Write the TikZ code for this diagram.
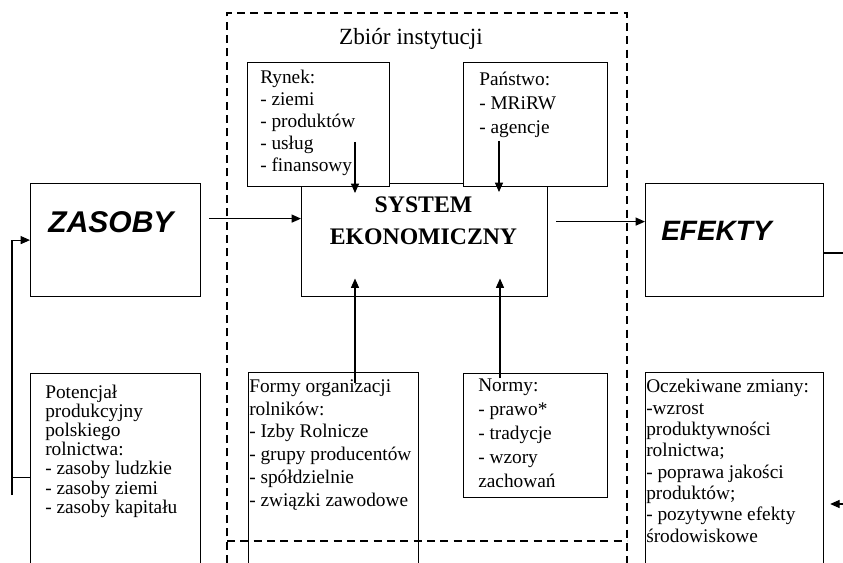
\documentclass[tikz,border=0pt]{standalone}
\usepackage{fontspec}
\setmainfont{Liberation Serif}
\newfontfamily\headfont{Liberation Sans}
\usetikzlibrary{arrows.meta}

\begin{document}
\begin{tikzpicture}[x=0.75pt,y=-0.75pt,
    box/.style={draw, line width=0.9pt, anchor=north west, inner sep=0pt},
    topbox/.style={box, fill=white},
    txt/.style={anchor=north west, inner sep=0pt, align=left, font=\fontsize{14.5}{#1}\selectfont},
    line/.style={line width=0.8pt},
    arr/.style={line, -{Triangle[length=7pt,width=6pt]}},
    frame/.style={line width=0.8pt, dash pattern=on 6pt off 4pt}]
\def\pxl{0.75pt} % one pixel of the reference
\useasboundingbox (0,0) rectangle (843,563);
\clip (0,0) rectangle (843,563);

% frame of the institutions
\draw[frame] (227,563) -- (227,13) -- (627,13) -- (627,563);
\draw[frame] (227,541) -- (627,541);
\node[anchor=base, font=\fontsize{17.4}{20}\selectfont] (zbior) at (411,45) {Zbiór instytucji};

% main row
\node[box, minimum width=170*\pxl, minimum height=113*\pxl] (zasoby) at (30,183) {};
\node[box, minimum width=246*\pxl, minimum height=113*\pxl] (system) at (301,183) {};
\node[box, minimum width=178*\pxl, minimum height=113*\pxl] (efekty) at (645,183) {};

% institutions above the system
\node[topbox, minimum width=142*\pxl, minimum height=124*\pxl] (rynek) at (247,62) {};
\node[topbox, minimum width=144*\pxl, minimum height=124*\pxl] (panstwo) at (463,62) {};

% bottom row
\node[box, minimum width=170*\pxl, minimum height=207*\pxl] (potencjal) at (30,373) {};
\node[box, minimum width=170*\pxl, minimum height=208*\pxl] (formy) at (248,372) {};
\node[box, minimum width=144*\pxl, minimum height=124*\pxl] (normy) at (463,373) {};
\node[box, minimum width=178*\pxl, minimum height=208*\pxl] (zmiany) at (645,372) {};

% texts
\node[font={\headfont\fontsize{22.5}{24}\selectfont\bfseries\itshape}] (zasobytxt) at (111,222) {ZASOBY};
\node[anchor=west, inner sep=0pt, font={\headfont\fontsize{21}{24}\selectfont\bfseries\itshape}] (efektytxt) at (661,231) {EFEKTY};
\node[align=center, font=\fontsize{17.8}{24}\selectfont\bfseries] (systemtxt) at (423.5,221) {SYSTEM\\EKONOMICZNY};
\node[txt=16.5] (ryneklist) at (260,70) {Rynek:\\- ziemi\\- produktów\\- usług\\- finansowy};
\node[txt=18] (panstwolist) at (479,72) {Państwo:\\- MRiRW\\- agencje};
\node[txt=14.3] (potencjallist) at (45,385) {Potencjał\\produkcyjny\\polskiego\\rolnictwa:\\- zasoby ludzkie\\- zasoby ziemi\\- zasoby kapitału};
\node[txt=17.2] (formylist) at (249,379) {Formy organizacji\\rolników:\\- Izby Rolnicze\\- grupy producentów\\- spółdzielnie\\- związki zawodowe};
\node[txt=18] (normylist) at (478,379) {Normy:\\- prawo*\\- tradycje\\- wzory\\zachowań};
\node[txt=16] (zmianylist) at (646,379) {Oczekiwane zmiany:\\-wzrost\\produktywności\\rolnictwa;\\- poprawa jakości\\produktów;\\- pozytywne efekty\\środowiskowe};

% flows
\draw[arr] ([shift={(8,-21.5)}]zasoby.east) -- ([shift={(0,-21.5)}]system.west);
\draw[arr] ([shift={(8,-18.5)}]system.east) -- ([shift={(0,-18.5)}]efekty.west);
\coordinate (efektyout) at (843,253);
\draw[line] (efekty.east |- efektyout) -- (efektyout);
\coordinate (zmianyin) at (843,504);
\draw[arr, shorten >=4.5pt] (zmianyin) -- (zmiany.east |- zmianyin);
\coordinate (feedback) at (12,495);
\draw[arr] (feedback) |- (zasoby.west);
\draw[line] (feedback |- potencjal.west) -- (potencjal.west);

% institutions acting on the system
\coordinate (rynekout) at (355,142);
\coordinate (panstwoout) at (499,141);
\coordinate (formyout) at (355,383);
\coordinate (normyout) at (500,378);
\draw[arr, shorten >=-7.5pt] (rynekout) -- (rynekout |- system.north);
\draw[arr, shorten >=-6.75pt] (panstwoout) -- (panstwoout |- system.north);
\draw[arr, shorten >=-14pt] (formyout) -- (formyout |- system.south);
\draw[arr, shorten >=-14pt] (normyout) -- (normyout |- system.south);
\end{tikzpicture}
\end{document}
